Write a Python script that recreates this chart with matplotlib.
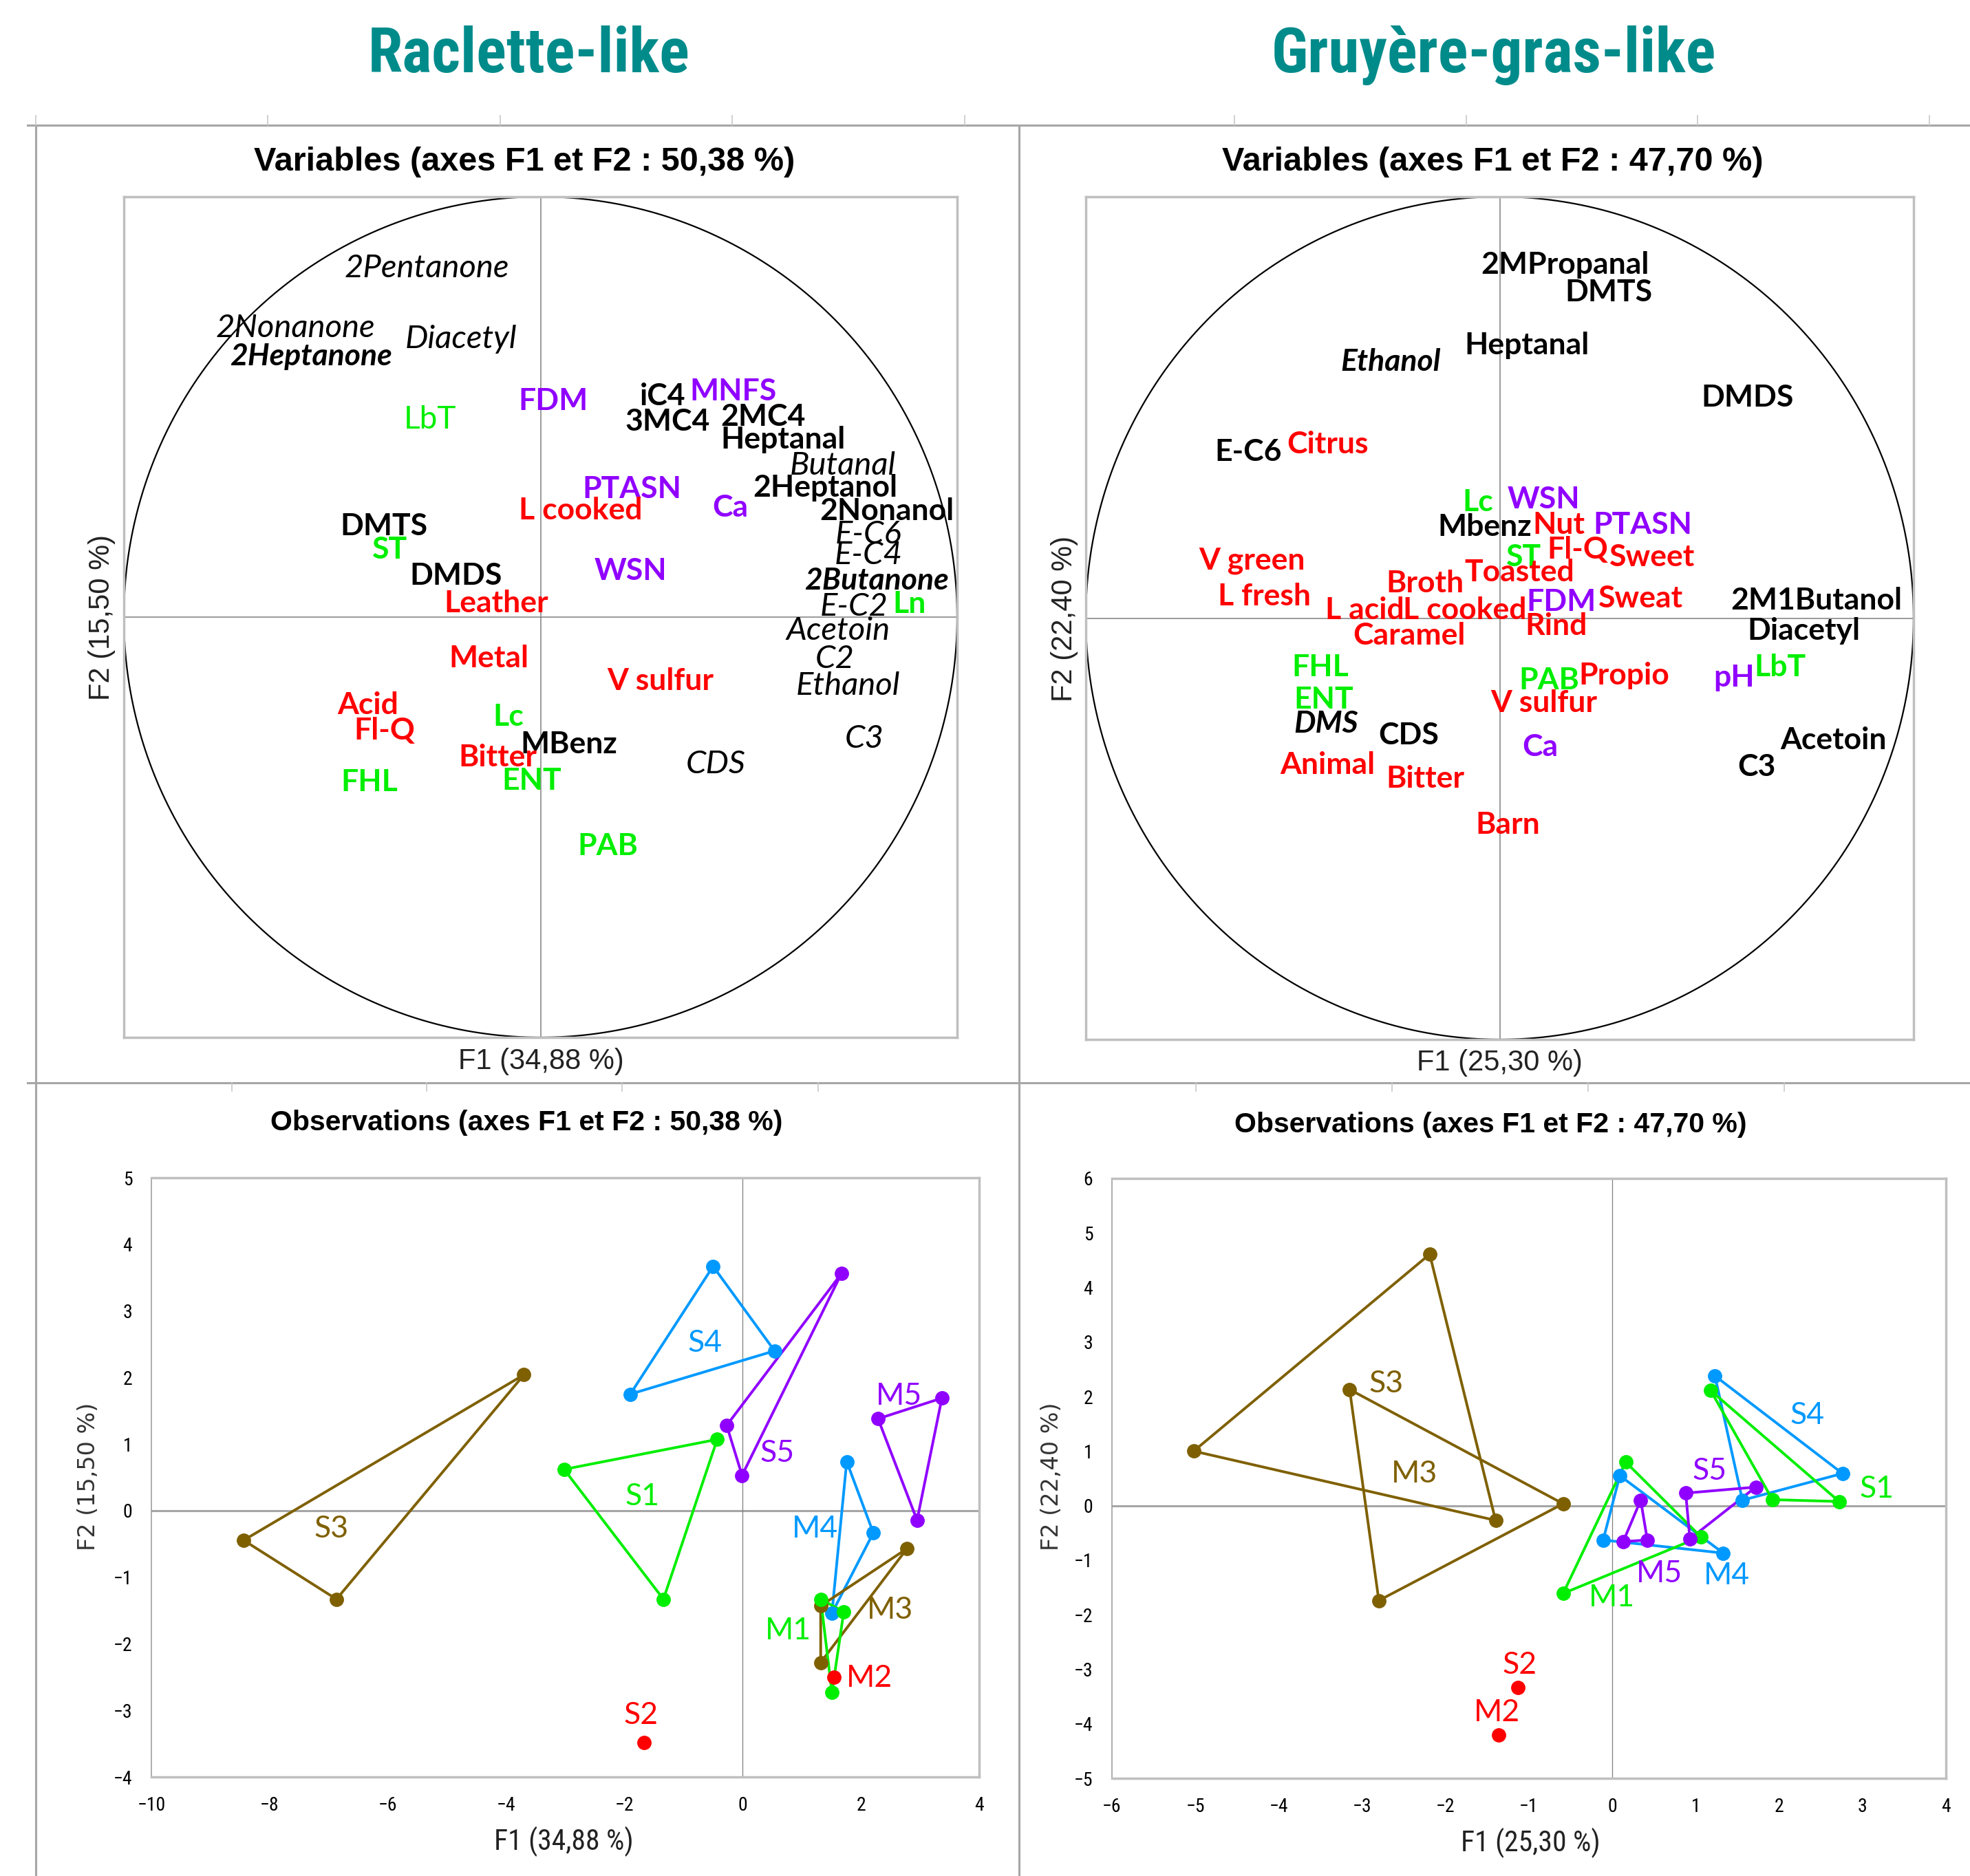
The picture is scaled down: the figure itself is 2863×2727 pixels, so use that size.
import numpy as np
import matplotlib
matplotlib.use("Agg")
import matplotlib.pyplot as plt
from matplotlib import font_manager
from matplotlib.lines import Line2D

# ---- data ----

# Raclette-like: correlation circle (label, F1, F2, kind)
rac_var_labels = ['2Pentanone', '2Nonanone', '2Heptanone', 'Diacetyl', 'LbT', 'FDM', 'iC4', 'MNFS',
                  '3MC4', '2MC4', 'Heptanal', 'Butanal', 'PTASN', '2Heptanol', 'L cooked', 'Ca',
                  '2Nonanol', 'DMTS', 'E-C6', 'ST', 'E-C4', 'WSN', 'DMDS', '2Butanone', 'Leather',
                  'E-C2', 'Ln', 'Acetoin', 'Metal', 'C2', 'Ethanol', 'V sulfur', 'Acid', 'Lc', 'Fl-Q',
                  'C3', 'MBenz', 'Bitter', 'CDS', 'FHL', 'ENT', 'PAB']
rac_var_f1 = [-0.272, -0.588, -0.550, -0.191, -0.265, 0.030, 0.293, 0.463,
              0.305, 0.534, 0.582, 0.725, 0.219, 0.684, 0.096, 0.455,
              0.832, -0.376, 0.787, -0.362, 0.787, 0.216, -0.203, 0.807, -0.107,
              0.753, 0.886, 0.715, -0.124, 0.707, 0.738, 0.287, -0.414, -0.077, -0.375,
              0.778, 0.068, -0.102, 0.420, -0.410, -0.021, 0.161]
rac_var_f2 = [0.830, 0.687, 0.621, 0.661, 0.470, 0.514, 0.525, 0.537,
              0.465, 0.476, 0.422, 0.360, 0.305, 0.308, 0.254, 0.260,
              0.252, 0.216, 0.196, 0.161, 0.148, 0.110, 0.099, 0.087, 0.033,
              0.025, 0.031, -0.033, -0.099, -0.100, -0.164, -0.153, -0.209, -0.237, -0.270,
              -0.290, -0.303, -0.334, -0.351, -0.392, -0.389, -0.545]
rac_var_kind = ['vi', 'vi', 'vbi', 'vi', 'gr', 'p', 'v', 'p',
                'v', 'v', 'v', 'vi', 'p', 'v', 's', 'p',
                'v', 'v', 'vi', 'g', 'vi', 'p', 'v', 'vbi', 's',
                'vi', 'g', 'vi', 's', 'vi', 'vi', 's', 's', 'g', 's',
                'vi', 'v', 's', 'vi', 'g', 'g', 'g']

# Gruyere-gras-like: correlation circle
gru_var_labels = ['2MPropanal', 'DMTS', 'Heptanal', 'Ethanol', 'DMDS', 'E-C6', 'Citrus', 'Lc', 'WSN',
                  'Mbenz', 'Nut', 'PTASN', 'ST', 'Fl-Q', 'Sweet', 'V green', 'L fresh', 'Broth',
                  'Toasted', 'L acid', 'L cooked', 'FDM', 'Sweat', 'Rind', '2M1Butanol', 'Diacetyl',
                  'Caramel', 'FHL', 'ENT', 'DMS', 'CDS', 'Animal', 'Bitter', 'Barn', 'PAB', 'Propio',
                  'V sulfur', 'Ca', 'pH', 'LbT', 'Acetoin', 'C3']
gru_var_f1 = [0.158, 0.263, 0.066, -0.264, 0.599, -0.607, -0.416, -0.052, 0.106,
              -0.037, 0.143, 0.346, 0.058, 0.188, 0.368, -0.599, -0.569, -0.180,
              0.048, -0.326, -0.085, 0.148, 0.341, 0.136, 0.765, 0.735,
              -0.218, -0.434, -0.426, -0.419, -0.220, -0.416, -0.180, 0.020, 0.120, 0.301,
              0.106, 0.098, 0.566, 0.677, 0.807, 0.621]
gru_var_f2 = [0.838, 0.773, 0.647, 0.608, 0.523, 0.394, 0.412, 0.275, 0.281,
              0.217, 0.222, 0.221, 0.145, 0.162, 0.145, 0.137, 0.052, 0.082,
              0.108, 0.018, 0.018, 0.039, 0.047, -0.018, 0.042, -0.031,
              -0.041, -0.116, -0.193, -0.250, -0.279, -0.348, -0.381, -0.490, -0.147, -0.136,
              -0.201, -0.306, -0.141, -0.116, -0.289, -0.353]
gru_var_kind = ['v', 'v', 'v', 'vbi', 'v', 'v', 's', 'g', 'p',
                'v', 's', 'p', 'g', 's', 's', 's', 's', 's',
                's', 's', 's', 'p', 's', 's', 'v', 'v',
                's', 'g', 'g', 'vbi', 'v', 's', 's', 's', 'g', 's',
                's', 'p', 'p', 'g', 'v', 'v']

# observations: triangles of three repetitions per cheese
rac_obs_names = ['S3', 'S4', 'S5', 'M5', 'S1', 'M4', 'M3', 'M1', 'S2', 'M2']
rac_obs_f1 = [[-3.70, -8.44, -6.87], [-1.90, -0.50, 0.54], [-0.27, 1.67, -0.01], [2.29, 3.37, 2.95],
              [-3.02, -0.43, -1.34], [1.76, 2.21, 1.51], [2.78, 1.32, 1.32], [1.32, 1.71, 1.51],
              [-1.67], [1.54]]
rac_obs_f2 = [[2.04, -0.445, -1.33], [1.75, 3.67, 2.40], [1.28, 3.56, 0.53], [1.38, 1.69, -0.144],
              [0.62, 1.07, -1.33], [0.737, -0.334, -1.54], [-0.57, -1.43, -2.28], [-1.33, -1.52, -2.73],
              [-3.48], [-2.50]]
rac_obs_lab_f1 = [-6.96, -0.64, 0.59, 2.65, -1.70, 1.22, 2.49, 0.77, -1.72, 2.14]
rac_obs_lab_f2 = [-0.28, 2.52, 0.86, 1.72, 0.21, -0.28, -1.49, -1.80, -3.08, -2.52]

gru_obs_names = ['M3', 'S3', 'S4', 'M4', 'S1', 'M1', 'S5', 'M5', 'S2', 'M2']
gru_obs_f1 = [[-5.02, -2.19, -1.40], [-3.15, -0.59, -2.80], [1.23, 2.76, 1.56], [0.09, -0.11, 1.33],
              [1.18, 1.92, 2.72], [0.16, 1.06, -0.59], [0.88, 1.72, 0.93], [0.34, 0.13, 0.42],
              [-1.13], [-1.36]]
gru_obs_f2 = [[1.00, 4.61, -0.27], [2.13, 0.035, -1.74], [2.38, 0.59, 0.10], [0.55, -0.63, -0.87],
              [2.11, 0.11, 0.076], [0.80, -0.57, -1.61], [0.23, 0.34, -0.61], [0.10, -0.66, -0.63],
              [-3.33], [-4.20]]
gru_obs_lab_f1 = [-2.37, -2.71, 2.34, 1.37, 3.17, -0.01, 1.17, 0.56, -1.11, -1.38]
gru_obs_lab_f2 = [0.58, 2.23, 1.65, -1.28, 0.30, -1.69, 0.63, -1.25, -2.92, -3.80]

# ---- fonts ----
fonts = font_manager.fontManager.ttflist
names = {f.name for f in fonts}
ARIAL = 'Liberation Sans'
LAB = 'Lato' if 'Lato' in names else 'DejaVu Sans'

# a condensed bold face for the two big titles, if one is installed
title_font = dict(family=ARIAL, fontsize=55)
for cand in ['Liberation Sans Narrow', 'Roboto Condensed', 'Open Sans Condensed', 'Arial Narrow']:
    if cand in names:
        title_font = dict(family=cand, fontsize=65.5)
        break
else:
    cond = [f for f in fonts if f.name == 'DejaVu Sans' and 'condensed' in str(f.stretch)
            and f.weight in ('bold', 700)]
    if cond:
        title_font = dict(family='DejaVu Sans', fontstretch='condensed', fontsize=60)
NARROW = title_font['family']

TEAL = '#008B8B'
RED, GREEN, PURPLE, BLACK = '#FF0000', '#00EE00', '#9000FF', '#000000'
kind_style = {
    'v': dict(color=BLACK, weight='bold', style='normal', fontsize=32),
    'vi': dict(color=BLACK, weight='normal', style='italic', fontsize=34),
    'vbi': dict(color=BLACK, weight='bold', style='italic', fontsize=32),
    's': dict(color=RED, weight='bold', style='normal', fontsize=32),
    'g': dict(color=GREEN, weight='bold', style='normal', fontsize=32),
    'gr': dict(color=GREEN, weight='normal', style='normal', fontsize=33),
    'p': dict(color=PURPLE, weight='bold', style='normal', fontsize=32),
}
group_color = {'S1': GREEN, 'M1': GREEN, 'S2': RED, 'M2': RED, 'S3': '#7F6000', 'M3': '#7F6000',
               'S4': '#0099FF', 'M4': '#0099FF', 'S5': PURPLE, 'M5': PURPLE}

W, H = 2863, 2727
fig = plt.figure(figsize=(W / 100, H / 100), dpi=100)


def add_ax(x0, y0, x1, y1):
    return fig.add_axes([x0 / W, 1 - y1 / H, (x1 - x0) / W, (y1 - y0) / H])


def ftext(x, y, s, **kw):
    return fig.text(x / W, 1 - y / H, s, ha='center', va='center', **kw)


def fline(xs, ys, **kw):
    fig.add_artist(Line2D([x / W for x in xs], [1 - y / H for y in ys], **kw))


# frames of the four chart areas
FRAME = '#A6A6A6'
fline([40, W], [182, 182], color=FRAME, lw=2.2)
fline([40, W], [1574, 1574], color=FRAME, lw=2.2)
fline([52, 52], [182, H], color=FRAME, lw=2.2)
fline([1481, 1481], [182, H], color=FRAME, lw=2.2)
for x in [52, 389, 727, 1064, 1402, 1794, 2131, 2467, 2804]:
    fline([x, x], [168, 182], color='#C8C8C8', lw=1.2)
for x in [337, 620, 904, 1189, 1738, 2023, 2308, 2593]:
    fline([x, x], [1574, 1586], color='#C8C8C8', lw=1.2)

# big titles
ftext(769, 80, 'Raclette-like', color=TEAL, weight='bold', **title_font)
ftext(2171, 80, 'Gruyère-gras-like', color=TEAL, weight='bold', **title_font)


def circle_panel(box, labels, f1, f2, kinds, title, title_xy, xl, xl_xy, yl, yl_xy):
    ax = add_ax(*box)
    t = np.linspace(0, 2 * np.pi, 400)
    ax.plot(np.cos(t), np.sin(t), color='black', lw=1.6)
    ax.axhline(0, color='#7F7F7F', lw=1.1)
    ax.axvline(0, color='#7F7F7F', lw=1.1)
    for lab, x, y, k in zip(labels, f1, f2, kinds):
        ax.text(x, y, lab, ha='center', va='center', family=LAB, **kind_style[k])
    ax.set_xlim(-1, 1)
    ax.set_ylim(-1, 1)
    ax.set_xticks([])
    ax.set_yticks([])
    for s in ax.spines.values():
        s.set_color('#BFBFBF')
        s.set_linewidth(2.5)
    ftext(*title_xy, title, fontsize=35, weight='bold', family=ARIAL)
    ftext(*xl_xy, xl, fontsize=30, family=ARIAL, color='#222222')
    ftext(*yl_xy, yl, fontsize=30, family=ARIAL, color='#222222', rotation=90)


circle_panel((180, 286, 1391, 1508), rac_var_labels, rac_var_f1, rac_var_f2, rac_var_kind,
             'Variables (axes F1 et F2 : 50,38 %)', (762, 236),
             'F1 (34,88 %)', (786, 1543), 'F2 (15,50 %)', (148, 897))
circle_panel((1578, 286, 2781, 1511), gru_var_labels, gru_var_f1, gru_var_f2, gru_var_kind,
             'Variables (axes F1 et F2 : 47,70 %)', (2169, 236),
             'F1 (25,30 %)', (2179, 1545), 'F2 (22,40 %)', (1547, 899))


def obs_panel(box, names_, xs, ys, lx, ly, xlim, ylim, title, title_xy, xl, xl_xy, yl, yl_xy):
    ax = add_ax(*box)
    ax.axhline(0, color='#A6A6A6', lw=2.2, zorder=1)
    ax.axvline(0, color='#7F7F7F', lw=0.9, zorder=1)
    for n, x, y, tx, ty in zip(names_, xs, ys, lx, ly):
        c = group_color[n]
        if len(x) > 1:
            ax.plot(x + [x[0]], y + [y[0]], color=c, lw=2.8, zorder=2)
        ax.plot(x, y, 'o', color=c, ms=14, zorder=3)
        ax.text(tx, ty, n, color=c, fontsize=32, family=LAB, ha='center', va='center', zorder=4)
    ax.set_xlim(*xlim)
    ax.set_ylim(*ylim)
    ax.set_xticks(np.arange(xlim[0], xlim[1] + 1, 2 if xlim[0] == -10 else 1))
    ax.set_yticks(np.arange(ylim[0], ylim[1] + 1, 1))
    ax.tick_params(length=0, labelsize=20, pad=20)
    for lab in ax.get_xticklabels() + ax.get_yticklabels():
        lab.set_family(NARROW)
    for s in ax.spines.values():
        s.set_color('#BFBFBF')
        s.set_linewidth(2.5)
    ax.spines['left'].set_color('#A0A0A0')
    ax.spines['left'].set_linewidth(1.2)
    ftext(*title_xy, title, fontsize=29.5, weight='bold', family=ARIAL)
    ftext(*xl_xy, xl, fontsize=30, family=NARROW, color='#222222')
    ftext(*yl_xy, yl, fontsize=24, family='DejaVu Sans', color='#333333', rotation=90)


obs_panel((220, 1712, 1423, 2583), rac_obs_names, rac_obs_f1, rac_obs_f2, rac_obs_lab_f1, rac_obs_lab_f2,
          (-10, 4), (-4, 5), 'Observations (axes F1 et F2 : 50,38 %)', (765, 1632),
          'F1 (34,88 %)', (819, 2677), 'F2 (15,50 %)', (128, 2146))
obs_panel((1616, 1713, 2828, 2585), gru_obs_names, gru_obs_f1, gru_obs_f2, gru_obs_lab_f1, gru_obs_lab_f2,
          (-6, 4), (-5, 6), 'Observations (axes F1 et F2 : 47,70 %)', (2166, 1635),
          'F1 (25,30 %)', (2224, 2679), 'F2 (22,40 %)', (1528, 2146))

fig.savefig('out.png', dpi=100)
